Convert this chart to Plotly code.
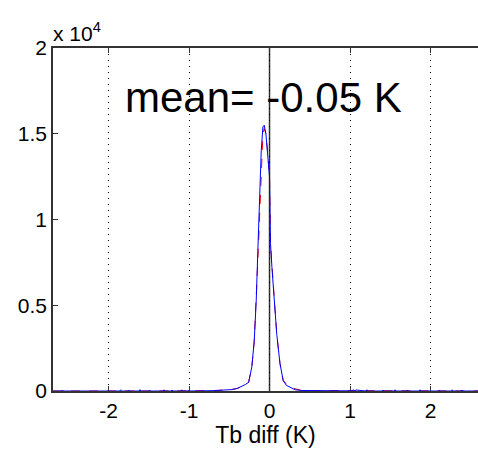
import plotly.graph_objects as go

# Histogram of Tb difference (counts)
blue_x = [-2.69, -2.58, -2.57, -2.56, -1.86, -1.85, -1.84, -1.76, -1.75, -1.74, -1.62, -1.61, -1.60,
          -1.50, -1.49, -1.48, -1.32, -1.31, -1.30, -1.22, -1.21, -1.20, -1.10, -1.09, -1.08,
          -1.02, -1.01, -1.00, -0.70, -0.475, -0.40, -0.34, -0.30, -0.26, -0.22, -0.19, -0.165,
          -0.145, -0.125, -0.103, -0.082, -0.066, -0.045, -0.025, 0.0, 0.005, 0.012, 0.03,
          0.06, 0.09, 0.13, 0.17, 0.21, 0.26, 0.32, 0.40, 0.60, 0.80, 1.00, 1.05, 1.06, 1.07,
          1.20, 1.21, 1.22, 1.40, 1.41, 1.42, 1.55, 1.56, 1.57, 1.70, 1.71, 1.72, 1.86, 1.87, 1.88,
          2.10, 2.11, 2.12, 2.26, 2.27, 2.28, 2.38, 2.39, 2.40, 2.59]
blue_y = [0, 0, 60, 0, 0, 70, 0, 0, 60, 0, 0, 80, 0,
          0, 60, 0, 0, 70, 0, 0, 60, 0, 0, 70, 0,
          0, 50, 0, 20, 80, 150, 270, 380, 500, 1400, 2900, 5300,
          8200, 11100, 14000, 15400, 15500, 15000, 14000, 12500, 10800, 8600, 7200,
          5300, 3300, 1600, 600, 330, 200, 70, 30, 20, 10, 10, 60, 0, 60,
          0, 70, 0, 0, 60, 0, 0, 70, 0, 0, 60, 0, 0, 70, 0,
          0, 60, 0, 0, 70, 0, 0, 60, 0, 0]

red_x = [-2.69, -1.66, -1.65, -1.64, -0.70, -0.475, -0.40, -0.34, -0.26, -0.22, -0.19,
         -0.165, -0.14, -0.118, -0.098, -0.082, -0.066, -0.045, -0.025, 0.0, 0.012,
         0.03, 0.06, 0.09, 0.13, 0.17, 0.26, 0.40, 2.59]
red_y = [0, 0, 80, 0, 20, 80, 150, 270, 500, 1400, 2900,
         5300, 8200, 10800, 13600, 15000, 15300, 15000, 14000, 12500, 8600,
         7200, 5300, 3300, 1600, 600, 200, 30, 0]

x_tickvals = [-2, -1, 0, 1, 2]
x_ticktext = ["-2", "-1", "0", "1", "2"]
y_tickvals = [0, 5000, 10000, 15000, 20000]
y_ticktext = ["0", "0.5", "1", "1.5", "2"]

font_family = "Liberation Sans, Arial, Helvetica, sans-serif"

fig = go.Figure()
fig.add_trace(go.Scatter(x=red_x, y=red_y, mode="lines",
                         line=dict(color="#ff0000", width=1, dash="dash"), showlegend=False))
fig.add_trace(go.Scatter(x=blue_x, y=blue_y, mode="lines",
                         line=dict(color="#0000ff", width=1), showlegend=False))

fig.add_vline(x=0, line=dict(color="#333333", width=1.5), layer="below")

fig.add_annotation(text="mean= -0.05 K", xref="paper", yref="paper", x=0.496, y=0.855,
                   xanchor="center", yanchor="middle", showarrow=False,
                   font=dict(size=42, color="black", family=font_family))
fig.add_annotation(text="x 10<sup>4</sup>", xref="paper", yref="paper", x=-0.005, y=1.0,
                   xanchor="left", yanchor="bottom", yshift=1, showarrow=False,
                   font=dict(size=21, color="black", family=font_family))

fig.update_layout(
    width=478, height=456,
    margin=dict(l=53, r=0, t=48, b=65),
    paper_bgcolor="white", plot_bgcolor="white",
    font=dict(family=font_family, size=20, color="black"),
    showlegend=False,
)
fig.update_xaxes(range=[-2.69, 2.59], tickvals=x_tickvals, ticktext=x_ticktext,
                 showgrid=True, gridcolor="black", griddash="1px,5px", gridwidth=1,
                 showline=True, linecolor="#333333", linewidth=1.5, mirror="ticks",
                 ticks="inside", ticklen=5, tickcolor="#333333", zeroline=False,
                 layer="below traces", tickfont=dict(size=21),
                 title=dict(text="Tb diff (K)", font=dict(size=23), standoff=6))
fig.update_yaxes(range=[0, 20000], tickvals=y_tickvals, ticktext=y_ticktext,
                 showgrid=False, showline=True, linecolor="#333333", linewidth=1.5,
                 ticks="inside", ticklen=5, tickcolor="#333333", zeroline=False,
                 layer="below traces", tickfont=dict(size=21))

fig.write_html("out.html")
